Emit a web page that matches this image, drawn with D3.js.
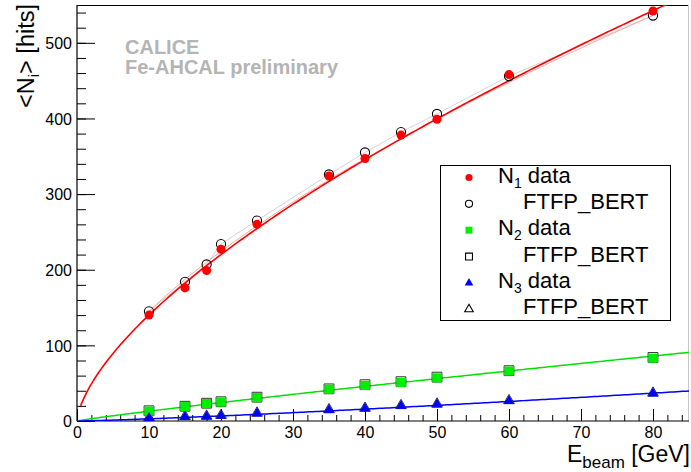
<!DOCTYPE html>
<html>
<head>
<meta charset="utf-8">
<script src="https://cdn.jsdelivr.net/npm/d3@7"></script>
<style>
  html, body { margin: 0; padding: 0; background: #fff; }
  svg { display: block; font-family: "Liberation Sans", Arial, Helvetica, sans-serif; }
</style>
</head>
<body>
<svg id="chart" width="691" height="472"></svg>
<script>
// Beam energies (GeV)
const energies = [10, 15, 18, 20, 25, 35, 40, 45, 50, 60, 80];

// Mean hit counts per category: data and FTFP_BERT simulation
const n1Data = [140, 176, 199, 227, 260, 324, 347, 378, 399, 458, 542];
const n1Mc   = [145, 184, 207, 234, 265, 326, 355, 382, 406, 456, 536];
const n2Data = [13, 19, 23, 25, 31, 42, 47, 51, 57, 66, 83];
const n2Mc   = [13.5, 19.5, 23.5, 25.5, 31.5, 42.5, 48, 52, 58, 66.5, 84];
const n3Data = [4, 5.5, 6, 7, 10, 14.5, 16.5, 20, 22, 26.5, 36.5];
const n3Mc   = [4.5, 6, 6.5, 7.5, 10.5, 15, 17, 20.5, 22.5, 27, 37];

// Power-law fits  N = a * E^b  : [a, b]
const fitN1   = [31.3, 0.651];
const fitN1Mc = [34.07, 0.629];
const fitN2   = [1.6, 0.909];
const fitN3   = [0.168, 1.23];

// Axis ticks
const xMajorTicks = [0, 10, 20, 30, 40, 50, 60, 70, 80];
const yMajorTicks = [0, 100, 200, 300, 400, 500];

const svg = d3.select("#chart");
const pL = 77, pR = 689, pT = 5, pB = 421;

const x = d3.scaleLinear().domain([0, 85]).range([pL, pR]);
const y = d3.scaleLinear().domain([0, 550]).range([pB, pT]);

svg.append("defs").append("clipPath").attr("id", "plotClip")
  .append("rect").attr("x", pL).attr("y", pT).attr("width", pR - pL).attr("height", pB - pT);

// Frame
svg.append("line").attr("x1", pL).attr("x2", pR).attr("y1", pT + 0.5).attr("y2", pT + 0.5)
  .attr("stroke", "#000").attr("stroke-width", 1.2);
svg.append("line").attr("x1", pR - 0.5).attr("x2", pR - 0.5).attr("y1", pT).attr("y2", pB)
  .attr("stroke", "#c8c8c8").attr("stroke-width", 1);

// X axis: minor ticks every 2 GeV, major every 10
const xMinor = d3.range(0, 86, 2);
svg.append("g").attr("transform", `translate(0,${pB})`)
  .call(d3.axisTop(x).tickValues(xMinor).tickSize(6).tickFormat(""))
  .call(g => g.select(".domain").remove())
  .call(g => g.selectAll("line").attr("stroke", "#000"));
const xAxis = svg.append("g").attr("transform", `translate(0,${pB})`)
  .call(d3.axisTop(x).tickValues(xMajorTicks).tickSize(12).tickFormat(d3.format("d")));
xAxis.select(".domain").remove();
xAxis.selectAll("line").attr("stroke", "#000");
xAxis.selectAll("text").attr("y", 17).attr("dy", 0).attr("font-size", 16)
  .attr("font-family", "Liberation Sans, Arial, sans-serif").attr("fill", "#000");
svg.append("line").attr("x1", pL).attr("x2", pR).attr("y1", pB).attr("y2", pB)
  .attr("stroke", "#000").attr("stroke-width", 1.2);

// Y axis: minor ticks every 20, major every 100
const yMinor = d3.range(0, 551, 20);
svg.append("g").attr("transform", `translate(${pL},0)`)
  .call(d3.axisRight(y).tickValues(yMinor).tickSize(9).tickFormat(""))
  .call(g => g.select(".domain").remove())
  .call(g => g.selectAll("line").attr("stroke", "#000"));
const yAxis = svg.append("g").attr("transform", `translate(${pL},0)`)
  .call(d3.axisRight(y).tickValues(yMajorTicks).tickSize(18).tickFormat(d3.format("d")));
yAxis.select(".domain").remove();
yAxis.selectAll("line").attr("stroke", "#000");
yAxis.selectAll("text").attr("x", -5).attr("text-anchor", "end").attr("dy", "0.36em")
  .attr("font-size", 16).attr("font-family", "Liberation Sans, Arial, sans-serif").attr("fill", "#000");
svg.append("line").attr("x1", pL).attr("x2", pL).attr("y1", pT).attr("y2", pB)
  .attr("stroke", "#000").attr("stroke-width", 1.2);

// Axis titles
const yt = svg.append("text").attr("transform", `translate(34,${pT - 1}) rotate(-90)`)
  .attr("text-anchor", "end").attr("font-size", 23.5).attr("fill", "#000");
yt.append("tspan").text("<N");
yt.append("tspan").attr("font-size", 15).attr("dy", 5).text("i");
yt.append("tspan").attr("dy", -5).text("> [hits]");

const xt = svg.append("text").attr("x", 690).attr("y", 462)
  .attr("text-anchor", "end").attr("font-size", 23).attr("fill", "#000");
xt.append("tspan").text("E");
xt.append("tspan").attr("font-size", 17).attr("dy", 6).text("beam");
xt.append("tspan").attr("dy", -6).text(" [GeV]");

// Preliminary label
svg.append("text").attr("x", 125).attr("y", 54).attr("font-size", 20).attr("font-weight", "bold")
  .attr("fill", "#b4b4b4").text("CALICE");
svg.append("text").attr("x", 125).attr("y", 74).attr("font-size", 20).attr("font-weight", "bold")
  .attr("fill", "#b4b4b4").text("Fe-AHCAL preliminary");

const plot = svg.append("g").attr("clip-path", "url(#plotClip)");

// Fit curves
function powerCurve(p, e0, e1) {
  const n = 200;
  return d3.range(n + 1).map(i => {
    const e = e0 + (e1 - e0) * i / n;
    return [e, p[0] * Math.pow(e, p[1])];
  });
}
const line = d3.line().x(d => x(d[0])).y(d => y(d[1]));

// Thin connecting lines through the points
plot.append("path").attr("d", line(energies.map((e, i) => [e, n1Mc[i]])))
  .attr("fill", "none").attr("stroke", "#d4d4d4").attr("stroke-width", 1);
plot.append("path").attr("d", line(powerCurve(fitN1Mc, 10, 80)))
  .attr("fill", "none").attr("stroke", "#ffa0a0").attr("stroke-width", 1);

plot.append("path").attr("d", line(powerCurve(fitN1, 0.5, 85)))
  .attr("fill", "none").attr("stroke", "#ff0000").attr("stroke-width", 1.6);
plot.append("path").attr("d", line(powerCurve(fitN2, 0, 85)))
  .attr("fill", "none").attr("stroke", "#00e000").attr("stroke-width", 1.5);
plot.append("path").attr("d", line(powerCurve(fitN3, 0, 85)))
  .attr("fill", "none").attr("stroke", "#0000ff").attr("stroke-width", 1.5);

// Marker helpers
const sym = {
  circle: (s) => d3.symbol(d3.symbolCircle, s)(),
  square: (s) => d3.symbol(d3.symbolSquare, s)(),
  triangle: (s) => d3.symbol(d3.symbolTriangle, s)()
};
function markers(vals, shape, size, fill, stroke, sw) {
  svg.append("g").selectAll("path").data(energies.map((e, i) => [e, vals[i]])).join("path")
    .attr("transform", d => `translate(${x(d[0])},${y(d[1])})`)
    .attr("d", sym[shape](size))
    .attr("fill", fill).attr("stroke", stroke).attr("stroke-width", sw);
}
// Simulation (open) first, data (filled) on top
markers(n1Mc, "circle", 66, "none", "#000", 1.1);
markers(n2Mc, "square", 96, "none", "#333", 1);
markers(n3Mc, "triangle", 50, "none", "#222", 0.9);
markers(n1Data, "circle", 64, "#ff0000", "none", 0);
markers(n2Data, "square", 84, "#00ee00", "none", 0);
markers(n3Data, "triangle", 48, "#0000ff", "none", 0);

// Legend
const lg = svg.append("g");
lg.append("rect").attr("x", 440.5).attr("y", 165.5).attr("width", 230).attr("height", 155)
  .attr("fill", "#fff").attr("stroke", "#000").attr("stroke-width", 1);
const legendRows = [
  { shape: "circle", size: 40, fill: "#ff0000", stroke: "none", label: "N", sub: "1", rest: " data" },
  { shape: "circle", size: 40, fill: "none", stroke: "#000", label: "FTFP_BERT" },
  { shape: "square", size: 48, fill: "#00ee00", stroke: "none", label: "N", sub: "2", rest: " data" },
  { shape: "square", size: 48, fill: "none", stroke: "#000", label: "FTFP_BERT" },
  { shape: "triangle", size: 32, fill: "#0000ff", stroke: "none", label: "N", sub: "3", rest: " data" },
  { shape: "triangle", size: 32, fill: "none", stroke: "#000", label: "FTFP_BERT" }
];
legendRows.forEach((r, i) => {
  const base = 182.5 + 26.35 * i;
  lg.append("path").attr("transform", `translate(469,${base - 5})`)
    .attr("d", sym[r.shape](r.size)).attr("fill", r.fill)
    .attr("stroke", r.stroke).attr("stroke-width", r.stroke === "none" ? 0 : 1.1);
  const t = lg.append("text").attr("y", base).attr("font-size", 22).attr("fill", "#000");
  if (r.sub) {
    t.attr("x", 498);
    t.append("tspan").text(r.label);
    t.append("tspan").attr("font-size", 14).attr("dy", 5).text(r.sub);
    t.append("tspan").attr("dy", -5).text(r.rest);
  } else {
    t.attr("x", 523).text(r.label);
  }
});
</script>
</body>
</html>
